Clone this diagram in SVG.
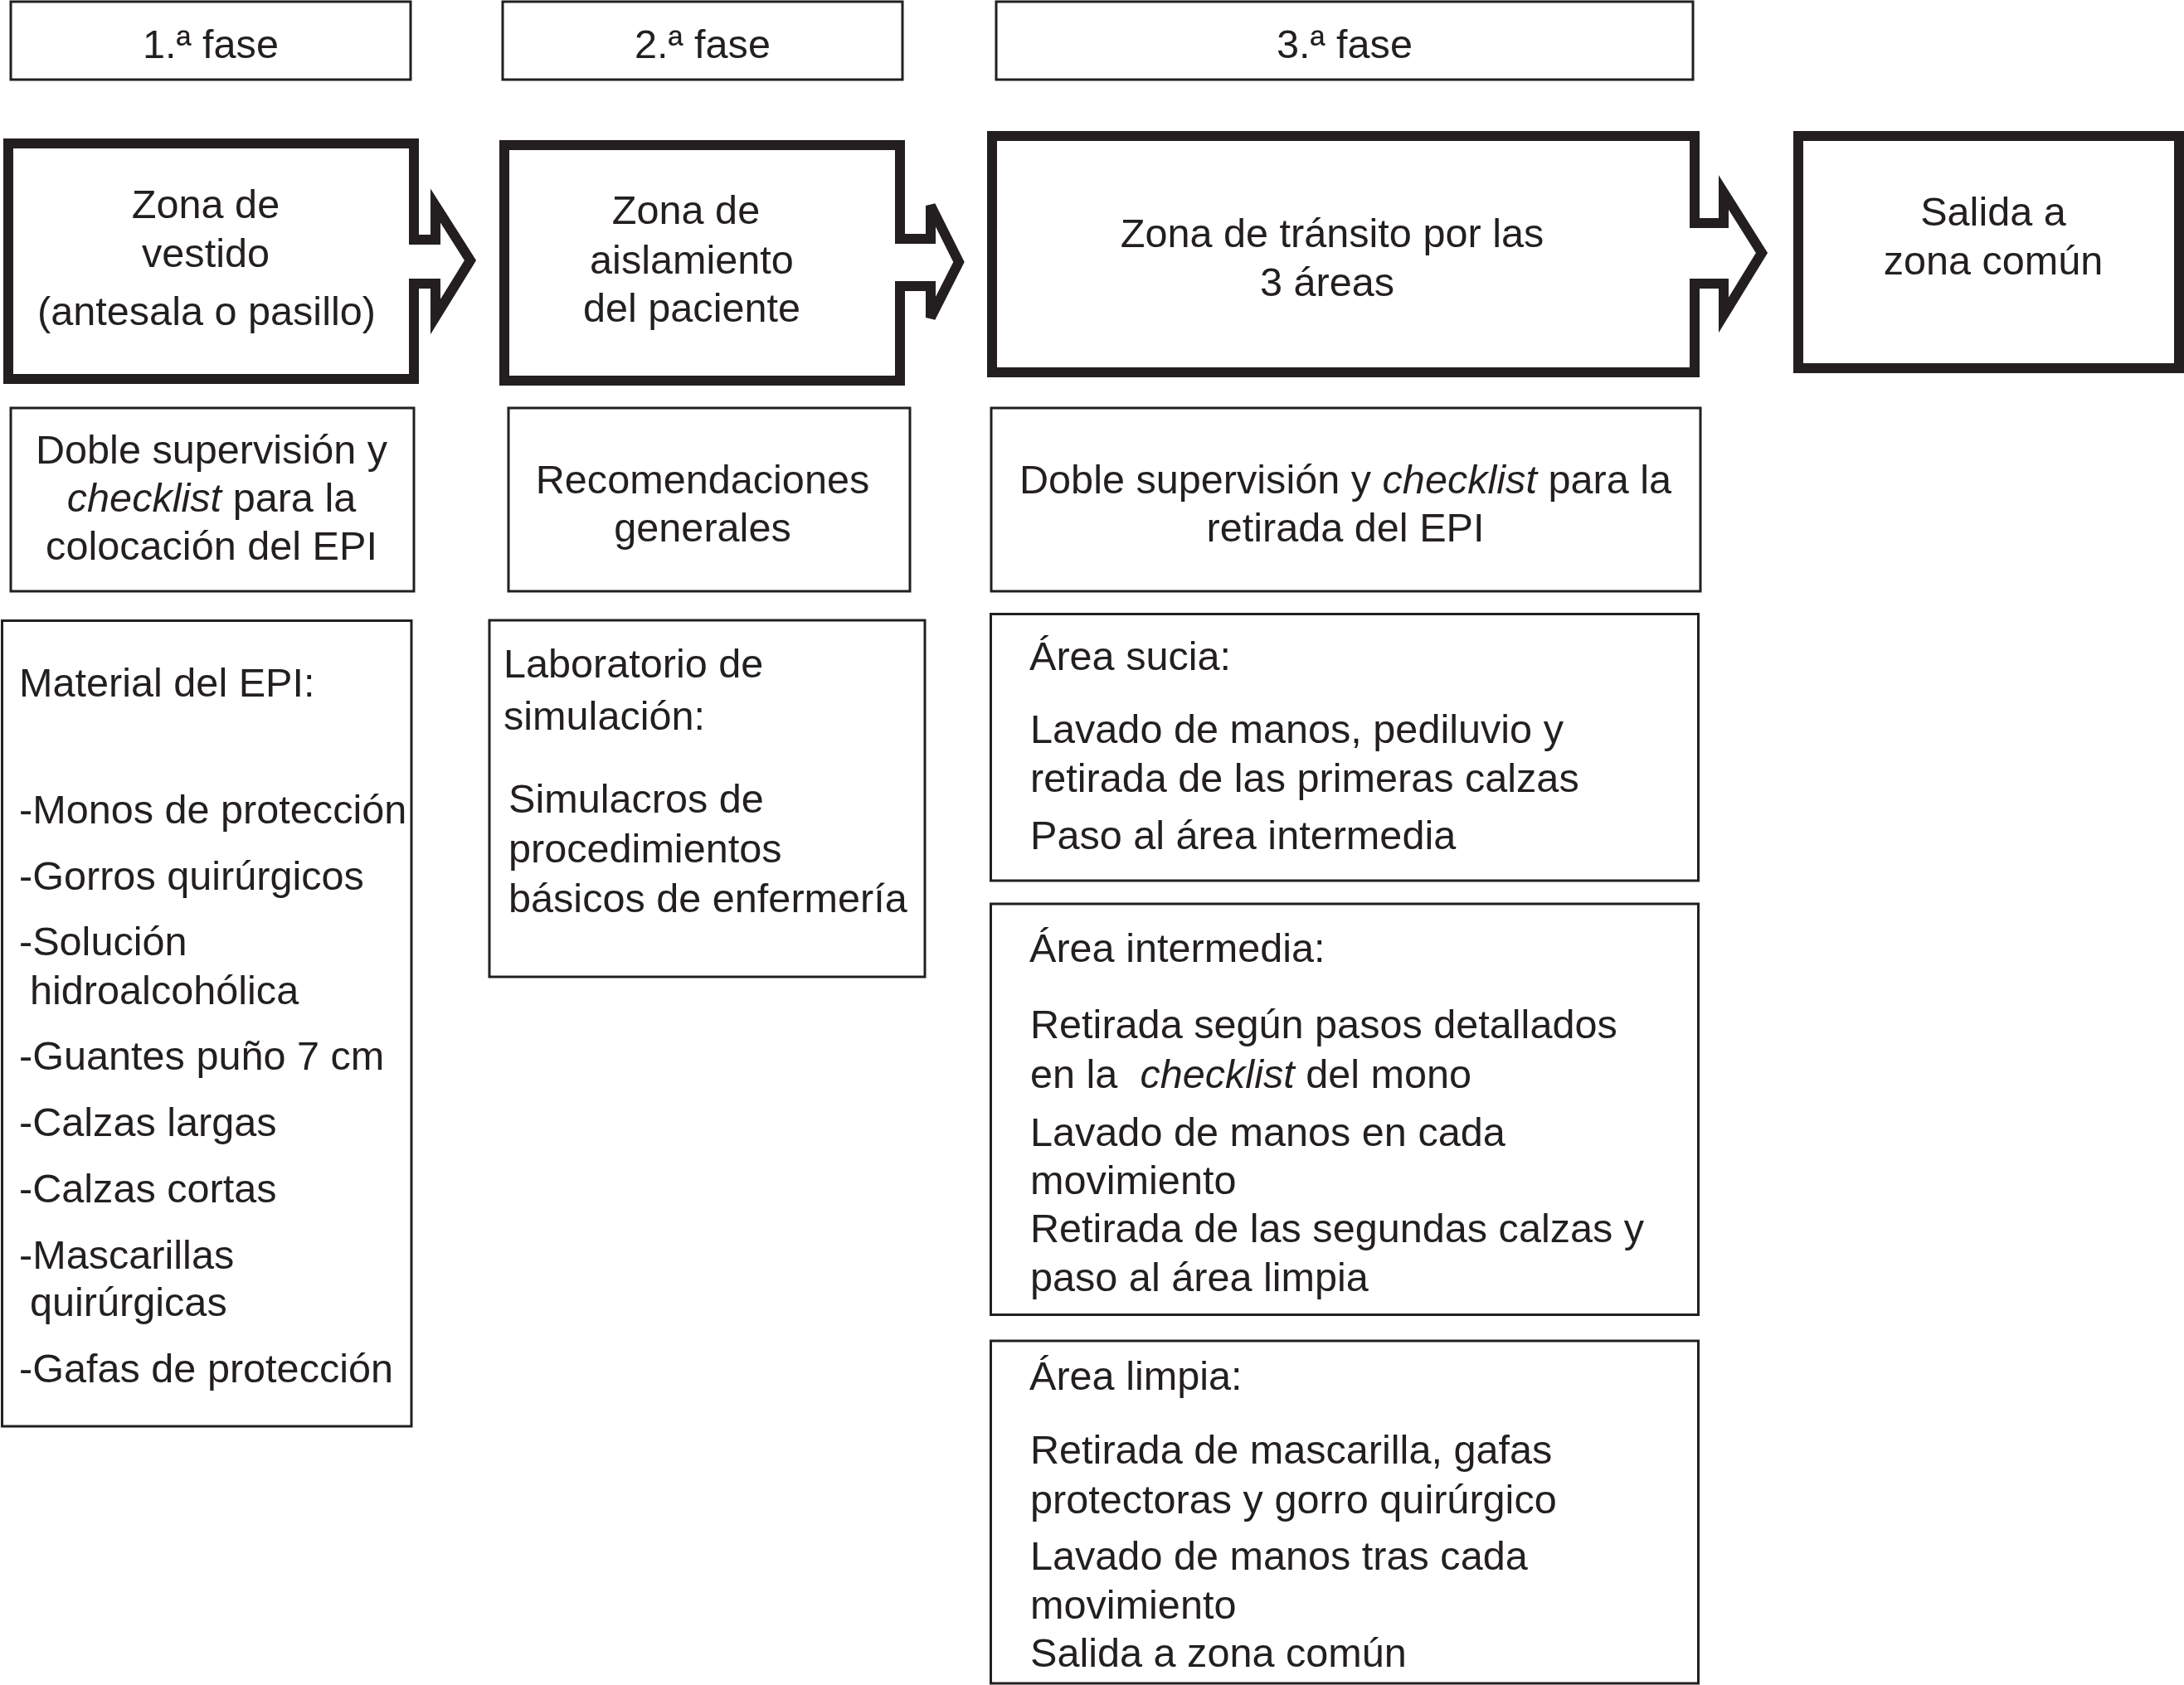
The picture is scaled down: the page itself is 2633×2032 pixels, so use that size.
<svg xmlns="http://www.w3.org/2000/svg" width="2633" height="2032" viewBox="0 0 2633 2032">
<style>
.bg{fill:#ffffff}
.thin{fill:none;stroke:#231f20;stroke-width:3}
.thick{fill:none;stroke:#231f20;stroke-width:12;stroke-linecap:square;stroke-linejoin:miter}
.t{font-family:"Liberation Sans",Arial,Helvetica,sans-serif;font-size:48.6px;fill:#231f20}
.c{text-anchor:middle}
.i{font-style:italic}
</style>
<rect class="bg" x="0" y="0" width="2633" height="2032"/>

<g id="fase1">
<rect class="thin" x="13" y="2" width="482" height="94"/>
<text class="t c" x="254" y="70">1.ª fase</text>
</g>
<g id="fase2">
<rect class="thin" x="606" y="2" width="482" height="94"/>
<text class="t c" x="847" y="70">2.ª fase</text>
</g>
<g id="fase3">
<rect class="thin" x="1201" y="2" width="840" height="94"/>
<text class="t c" x="1621" y="70">3.ª fase</text>
</g>

<g id="zona-vestido">
<path class="thick" d="M499,289 V173 H10 V457 H499 V342"/>
<text class="t c" x="248" y="263">Zona de</text>
<text class="t c" x="248" y="322">vestido</text>
<text class="t c" x="249" y="392">(antesala o pasillo)</text>
</g>
<g id="zona-aislamiento">
<path class="thick" d="M1085,288 V175 H608 V459 H1085 V345"/>
<text class="t c" x="827" y="270">Zona de</text>
<text class="t c" x="834" y="330">aislamiento</text>
<text class="t c" x="834" y="388">del paciente</text>
</g>
<g id="zona-transito">
<path class="thick" d="M2043,269 V164 H1196 V449 H2043 V342"/>
<text class="t c" x="1606" y="298">Zona de tránsito por las</text>
<text class="t c" x="1600" y="357">3 áreas</text>
</g>
<g id="salida">
<rect class="thick" x="2168" y="164" width="459" height="280"/>
<text class="t c" x="2403" y="272">Salida a</text>
<text class="t c" x="2403" y="331">zona común</text>
</g>

<g id="connectors">
<path class="thick" d="M499,289 H525 V248 L567,314 L525,382 V342 H499"/>
<path class="thick" d="M1085,288 H1122 V248 L1156,316 L1122,383 V345 H1085"/>
<path class="thick" d="M2043,269 H2078 V232 L2124,305 L2078,380 V342 H2043"/>
</g>

<g id="supervision-colocacion">
<rect class="thin" x="13" y="492" width="486" height="221"/>
<text class="t c" x="255" y="559">Doble supervisión y</text>
<text class="t c" x="255" y="617"><tspan class="i">checklist</tspan> para la</text>
<text class="t c" x="255" y="675">colocación del EPI</text>
</g>
<g id="recomendaciones">
<rect class="thin" x="613" y="492" width="484" height="221"/>
<text class="t c" x="847" y="595">Recomendaciones</text>
<text class="t c" x="847" y="653">generales</text>
</g>
<g id="supervision-retirada">
<rect class="thin" x="1195" y="492" width="855" height="221"/>
<text class="t c" x="1622" y="595">Doble supervisión y <tspan class="i">checklist</tspan> para la</text>
<text class="t c" x="1622" y="653">retirada del EPI</text>
</g>

<g id="material-epi">
<rect class="thin" x="2.5" y="748.5" width="493.5" height="971.5"/>
<text class="t" x="23" y="840">Material del EPI:</text>
<text class="t" x="23" y="993">-Monos de protección</text>
<text class="t" x="23" y="1073">-Gorros quirúrgicos</text>
<text class="t" x="23" y="1152">-Solución</text>
<text class="t" x="36" y="1211">hidroalcohólica</text>
<text class="t" x="23" y="1290">-Guantes puño 7 cm</text>
<text class="t" x="23" y="1370">-Calzas largas</text>
<text class="t" x="23" y="1450">-Calzas cortas</text>
<text class="t" x="23" y="1530">-Mascarillas</text>
<text class="t" x="36" y="1587">quirúrgicas</text>
<text class="t" x="23" y="1667">-Gafas de protección</text>
</g>

<g id="laboratorio">
<rect class="thin" x="590" y="748" width="525" height="430"/>
<text class="t" x="607" y="817">Laboratorio de</text>
<text class="t" x="607" y="880">simulación:</text>
<text class="t" x="613" y="980">Simulacros de</text>
<text class="t" x="613" y="1040">procedimientos</text>
<text class="t" x="613" y="1100">básicos de enfermería</text>
</g>

<g id="area-sucia">
<rect class="thin" x="1194.5" y="740.5" width="853" height="321.5"/>
<text class="t" x="1241" y="808">Área sucia:</text>
<text class="t" x="1242" y="896">Lavado de manos, pediluvio y</text>
<text class="t" x="1242" y="955">retirada de las primeras calzas</text>
<text class="t" x="1242" y="1024">Paso al área intermedia</text>
</g>

<g id="area-intermedia">
<rect class="thin" x="1194.5" y="1090" width="853" height="495.5"/>
<text class="t" x="1241" y="1160">Área intermedia:</text>
<text class="t" x="1242" y="1252">Retirada según pasos detallados</text>
<text class="t" x="1242" y="1312" xml:space="preserve">en la  <tspan class="i">checklist</tspan> del mono</text>
<text class="t" x="1242" y="1382">Lavado de manos en cada</text>
<text class="t" x="1242" y="1440">movimiento</text>
<text class="t" x="1242" y="1498">Retirada de las segundas calzas y</text>
<text class="t" x="1242" y="1557">paso al área limpia</text>
</g>

<g id="area-limpia">
<rect class="thin" x="1194.5" y="1617" width="853" height="413"/>
<text class="t" x="1241" y="1676">Área limpia:</text>
<text class="t" x="1242" y="1765">Retirada de mascarilla, gafas</text>
<text class="t" x="1242" y="1825">protectoras y gorro quirúrgico</text>
<text class="t" x="1242" y="1893">Lavado de manos tras cada</text>
<text class="t" x="1242" y="1952">movimiento</text>
<text class="t" x="1242" y="2010">Salida a zona común</text>
</g>
</svg>
